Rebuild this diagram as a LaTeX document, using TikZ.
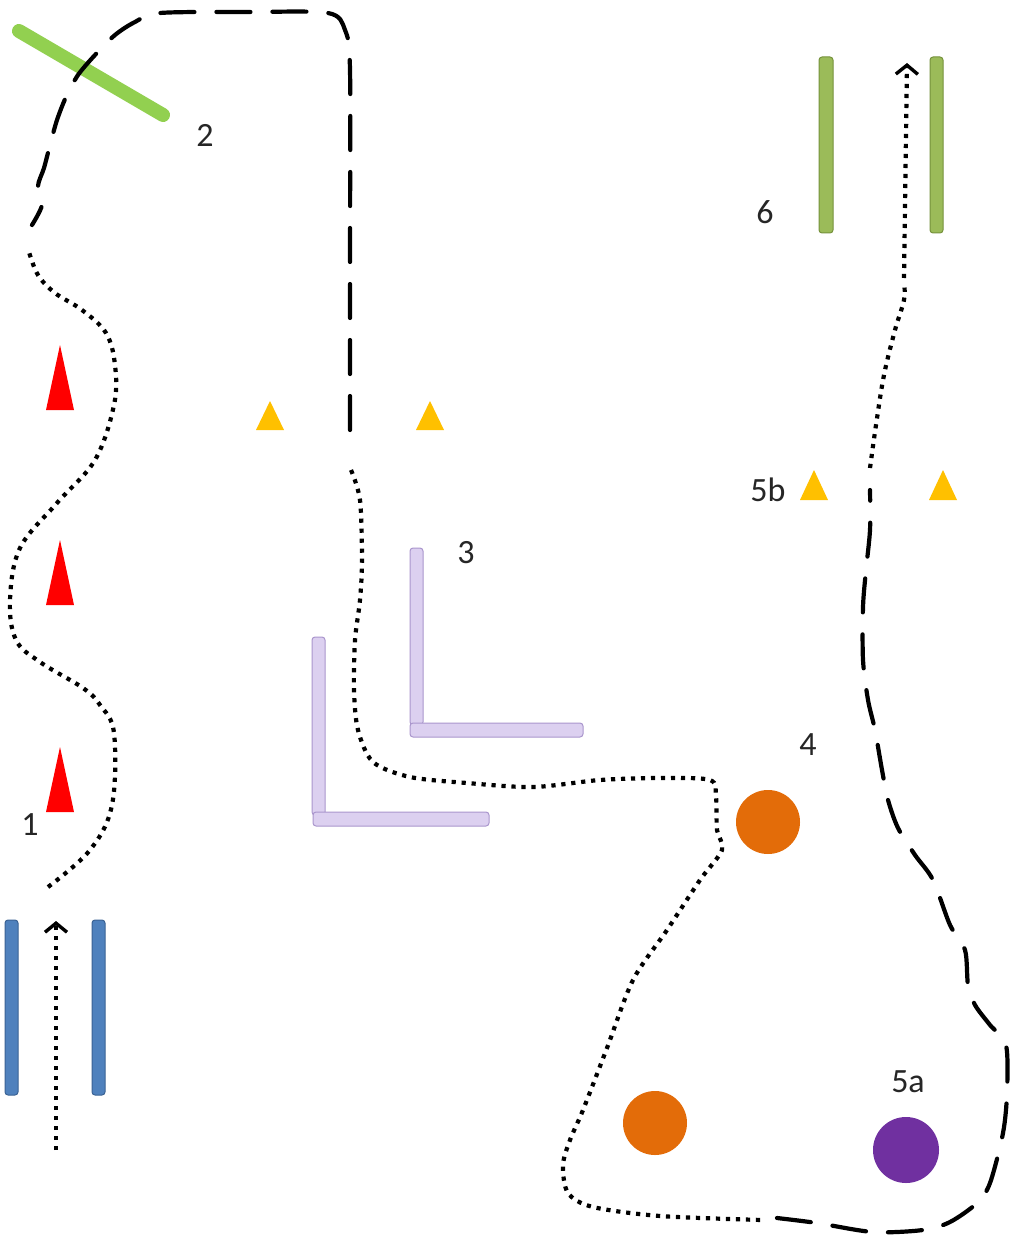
\documentclass[tikz,border=0pt]{standalone}
\usepackage{fontspec}
\setmainfont{Carlito}
\usetikzlibrary{arrows.meta}
\definecolor{barblue}{RGB}{79,129,189}
\definecolor{barblueedge}{RGB}{58,98,148}
\definecolor{lightgreen}{RGB}{146,208,80}
\definecolor{olivegreen}{RGB}{155,187,89}
\definecolor{olivegreenedge}{RGB}{118,146,60}
\definecolor{conered}{RGB}{255,0,0}
\definecolor{coneyellow}{RGB}{255,192,0}
\definecolor{lavender}{RGB}{220,208,240}
\definecolor{lavenderedge}{RGB}{170,150,205}
\definecolor{ballorange}{RGB}{227,108,9}
\definecolor{ballpurple}{RGB}{112,48,160}
\begin{document}
\begin{tikzpicture}[x=1pt,y=-1pt,
  dashpath/.style={draw=black, line width=4.2pt, line cap=round, dash pattern=on 34pt off 22pt},
  dotpath/.style={draw=black, line width=4.2pt, line cap=butt, dash pattern=on 4.2pt off 5.8pt},
  barrow/.style={-{Straight Barb[length=9pt,width=22pt,line width=3.4pt]}},
  bluebar/.style={fill=barblue, draw=barblueedge, line width=1pt, rounded corners=3pt},
  olivebar/.style={fill=olivegreen, draw=olivegreenedge, line width=1pt, rounded corners=3pt},
  lavbar/.style={fill=lavender, draw=lavenderedge, line width=1pt, rounded corners=3pt},
  redcone/.style={fill=conered},
  yellowcone/.style={fill=coneyellow},
  lbl/.style={font=\fontsize{34pt}{40pt}\selectfont, text=black!85, inner sep=0pt}
]
\useasboundingbox[fill=white] (0,0) rectangle (1013,1241);

% ---- station 1: blue gate, red cones
\path[bluebar] (5,920) rectangle (18,1095);
\path[bluebar] (92,920) rectangle (105,1095);
\draw[dotpath, barrow] (56,1150) -- (56,921);
\foreach \yy in {345,540,747} {
  \path[redcone] (60,\yy) -- (74,\yy+65) -- (46,\yy+65) -- cycle;
}
\node[lbl] (l1) at (30,825) {1};

\draw[dotpath] plot[smooth, tension=0.6] coordinates {
  (48,887) (90,850) (112,805) (114,733) (100,705) (83,688) (40,662) (16,640) (10,600)
  (20,548) (57,503) (95,460) (114,405) (115,365) (106,333) (82,310) (55,293) (38,275) (29,252)};

% ---- station 2: green slanted bar
\draw[lightgreen, line width=14pt, line cap=round] (19,31) -- (163,115);
\node[lbl] (l2) at (205,135) {2};

\draw[dashpath] plot[smooth, tension=0.5] coordinates {
  (350,430) (350,250) (350,70) (345,30) (328,13) (250,12) (160,13) (135,22) (115,35)
  (95,55) (78,75) (66,97) (57,120) (50,145) (44,168) (38,186) (42,205) (32,225)};

% ---- yellow cones middle
\path[yellowcone] (270,401) -- (284,430) -- (256,430) -- cycle;
\path[yellowcone] (430,401) -- (444,430) -- (416,430) -- cycle;

% ---- station 3: lavender L-shapes
\path[lavbar] (312,637) rectangle (325,815);
\path[lavbar] (313,812) rectangle (489,826);
\path[lavbar] (410,548) rectangle (423,725);
\path[lavbar] (410,723) rectangle (583,737);
\node[lbl] (l3) at (466,553) {3};

\draw[dotpath] plot[smooth, tension=0.5] coordinates {
  (351,470) (360,500) (362,560) (360,600) (355,640) (354,690) (358,730) (373,762)
  (410,777) (467,783) (533,787) (600,780) (660,778) (710,780) (716,797) (717,830)
  (722,850) (700,880) (667,930) (633,980) (607,1048) (583,1110) (570,1140) (563,1165)
  (568,1193) (593,1207) (660,1216) (762,1220)};

% ---- station 4
\path[fill=ballorange] (768,822) circle (32);
\node[lbl] (l4) at (808,745) {4};
\path[fill=ballorange] (655,1123) circle (32);

% ---- station 5a
\path[fill=ballpurple] (906,1150) circle (33);
\node[lbl] (l5a) at (908,1082) {5a};

\draw[dashpath] plot[smooth, tension=0.5] coordinates {
  (777,1218) (817,1223) (873,1232) (923,1230) (950,1222) (977,1203) (990,1183)
  (1003,1133) (1007,1093) (1006,1045) (990,1025) (975,1005) (968,985) (965,950)
  (950,925) (933,880) (915,855) (898,828) (888,800) (882,770) (875,730) (868,700)
  (863,660) (863,607) (866,570) (870,530) (870,490)};

% ---- station 5b
\path[yellowcone] (814,470) -- (828,500) -- (800,500) -- cycle;
\path[yellowcone] (943,470) -- (957,500) -- (929,500) -- cycle;
\node[lbl] (l5b) at (768,490) {5b};

% ---- station 6
\path[olivebar] (819,57) rectangle (833,233);
\path[olivebar] (930,57) rectangle (943,233);
\node[lbl] (l6) at (765,212) {6};

\draw[dotpath] plot[smooth, tension=0.6] coordinates {
  (870,468) (876,425) (884,375) (895,330) (904,300) (904,282)};
\draw[dotpath, barrow] (904,278) -- (907,63);

\end{tikzpicture}
\end{document}
